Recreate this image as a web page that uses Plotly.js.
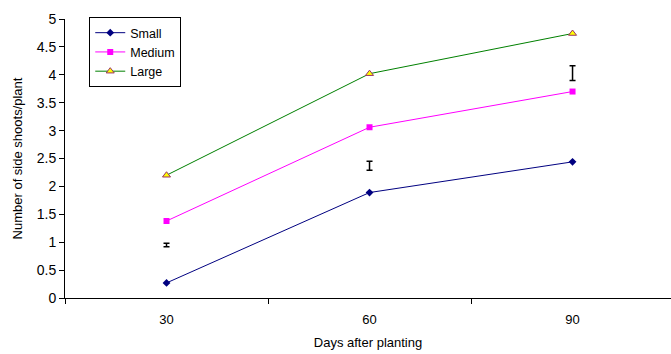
<!DOCTYPE html>
<html>
<head>
<meta charset="utf-8">
<script src="https://cdn.plot.ly/plotly-3.0.1.min.js"></script>
<style>html,body{margin:0;padding:0;background:#fff;}#chart{width:671px;height:354px;}</style>
</head>
<body>
<div id="chart"></div>
<script>
var days = ["30", "60", "90"];
var small = [0.27, 1.89, 2.44];
var medium = [1.38, 3.06, 3.70];
var large = [2.20, 4.02, 4.74];
var lsdCenter = [0.95, 2.37, 4.03];
var lsdHalf = [0.03, 0.08, 0.13];
var yTicks = [0, 0.5, 1, 1.5, 2, 2.5, 3, 3.5, 4, 4.5, 5];

var traces = [
  {x: days, y: small, name: "Small", type: "scatter", mode: "lines+markers",
   line: {color: "#000080", width: 1}, marker: {symbol: "diamond", size: 6, color: "#000080"}},
  {x: days, y: medium, name: "Medium", type: "scatter", mode: "lines+markers",
   line: {color: "#FF00FF", width: 1}, marker: {symbol: "square", size: 6, color: "#FF00FF"}},
  {x: days, y: large, name: "Large", type: "scatter", mode: "lines+markers",
   line: {color: "#008000", width: 1}, marker: {symbol: "triangle-up", size: 7, color: "#FFFF00", line: {color: "#993366", width: 1}}},
  {x: days, y: lsdCenter, type: "scatter", mode: "markers", showlegend: false, hoverinfo: "skip",
   marker: {size: 1, color: "rgba(0,0,0,0)"},
   error_y: {type: "data", array: lsdHalf, symmetric: true, color: "#000", thickness: 1.5, width: 3}}
];

var layout = {
  width: 671, height: 354,
  margin: {l: 65, r: 0, t: 19, b: 56},
  paper_bgcolor: "#fff", plot_bgcolor: "#fff",
  font: {family: "Liberation Sans, Arial, sans-serif", size: 13, color: "#000"},
  showlegend: true,
  legend: {x: 0.04, y: 1.007, xanchor: "left", yanchor: "top", bgcolor: "#fff",
           bordercolor: "#000", borderwidth: 1, font: {size: 12.5}, tracegroupgap: 0},
  xaxis: {type: "category", range: [-0.5, 2.485], tickson: "boundaries",
          ticks: "outside", ticklen: 5, tickcolor: "#000", showline: true, linecolor: "#000", linewidth: 1,
          showgrid: false, zeroline: false, tickfont: {size: 13}, ticklabelstandoff: 9,
          title: {text: "Days after planting", font: {size: 13}, standoff: 12}},
  yaxis: {range: [0, 5], tickvals: yTicks, ticktext: yTicks.map(String),
          ticks: "outside", ticklen: 5, tickcolor: "#000", showline: true, linecolor: "#000", linewidth: 1,
          showgrid: false, zeroline: false, tickfont: {size: 14},
          title: {text: "Number of side shoots/plant", font: {size: 13}, standoff: 11}}
};

Plotly.newPlot("chart", traces, layout, {displayModeBar: false, staticPlot: true});
</script>
</body>
</html>
